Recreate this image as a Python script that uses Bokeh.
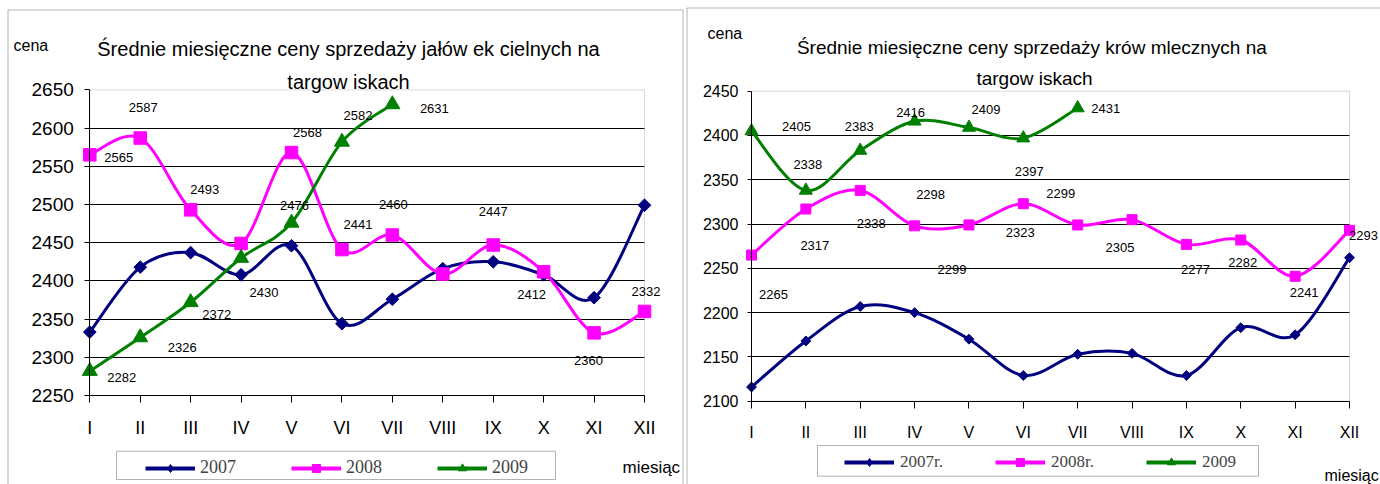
import math
import numpy as np
from bokeh.plotting import figure
from bokeh.models import (ColumnDataSource, FixedTicker, Legend, LegendItem,
                          LabelSet, Label, BoxAnnotation)
from bokeh.layouts import row
from bokeh.core.properties import value
from bokeh.embed import file_html
from bokeh.resources import INLINE

# ---------------- data ----------------
months = ["I", "II", "III", "IV", "V", "VI", "VII", "VIII", "IX", "X", "XI", "XII"]
month_pos = list(range(1, 13))

# left chart: heifers (jałówki cielne)
heifer_2007 = [2333, 2418, 2437, 2408, 2446, 2344, 2376, 2416, 2425, 2408, 2378, 2499]
heifer_2008 = [2565, 2587, 2493, 2449, 2568, 2441, 2460, 2409, 2447, 2412, 2332, 2360]
heifer_2009 = [2282, 2326, 2372, 2430, 2476, 2582, 2631]
heifer_yticks = [2250, 2300, 2350, 2400, 2450, 2500, 2550, 2600, 2650]

# right chart: dairy cows (krowy mleczne)
cow_2007 = [2116, 2168, 2207, 2200, 2170, 2129, 2153, 2154, 2129, 2183, 2175, 2262]
cow_2008 = [2265, 2317, 2338, 2298, 2299, 2323, 2299, 2305, 2277, 2282, 2241, 2293]
cow_2009 = [2405, 2338, 2383, 2416, 2409, 2397, 2431]
cow_yticks = [2100, 2150, 2200, 2250, 2300, 2350, 2400, 2450]

# data-label placement (which points carry a label and pixel offsets)
heifer_2008_lbl_idx = [0, 1, 2, 4, 5, 6, 8, 9, 10, 11]
heifer_2008_lbl_dx = [29, 3, 14, 16, 16, 1, 0, -12, 52, -56]
heifer_2008_lbl_dy = [-3, 31, 20, 20, 25, 31, 33, -23, 41, -49]
heifer_2009_lbl_idx = [0, 1, 2, 3, 4, 5, 6]
heifer_2009_lbl_dx = [32, 42, 26, 23, 3, 16, 42]
heifer_2009_lbl_dy = [-6, -10, -12, -35, 17, 26, -4]

cow_2008_lbl_idx = list(range(12))
cow_2008_lbl_dx = [22, 9, 11, 16, -17, -3, -17, -12, 9, 2, 9, 14]
cow_2008_lbl_dy = [-39, -36, -33, 31, -45, -29, 31, -28, -25, -22, -16, -5]
cow_2009_lbl_idx = [0, 1, 2, 3, 4, 5, 6]
cow_2009_lbl_dx = [45, 2, -1, -4, 17, 6, 28]
cow_2009_lbl_dy = [5, 26, 24, 9, 18, -33, 0]

NAVY = "#000080"
MAGENTA = "#FF00FF"
GREEN = "#008000"
SANS = "Liberation Sans"
SERIF = "Liberation Serif"

H = 484  # canvas height
NAN2 = np.array([np.nan, np.nan])


def bezier_source(xs, ys):
    n = len(xs)
    d = dict(x0=[], y0=[], x1=[], y1=[], cx0=[], cy0=[], cx1=[], cy1=[])
    for i in range(n - 1):
        ip = max(i - 1, 0)
        inx = min(i + 2, n - 1)
        d["x0"].append(xs[i]); d["y0"].append(ys[i])
        d["x1"].append(xs[i + 1]); d["y1"].append(ys[i + 1])
        d["cx0"].append(xs[i] + (xs[i + 1] - xs[ip]) / 6.0)
        d["cy0"].append(ys[i] + (ys[i + 1] - ys[ip]) / 6.0)
        d["cx1"].append(xs[i + 1] - (xs[inx] - xs[i]) / 6.0)
        d["cy1"].append(ys[i + 1] - (ys[inx] - ys[i]) / 6.0)
    return ColumnDataSource(d)


def draw_series(p, ys, color, marker, size, angle=0.0, legend_marker=None, legend_size=None):
    xs = month_pos[:len(ys)]
    p.bezier(x0="x0", y0="y0", x1="x1", y1="y1", cx0="cx0", cy0="cy0",
             cx1="cx1", cy1="cy1", source=bezier_source(xs, ys),
             line_color=color, line_width=3, line_cap="round")
    sc = p.scatter(x=xs, y=ys, marker=marker, size=size, angle=angle,
                   fill_color=color, line_color=color)
    # legend proxies (nothing drawn inside the plot)
    ln = p.line(x=NAN2, y=NAN2, line_color=color, line_width=4)
    if legend_marker is not None:
        sc_leg = p.scatter(x=NAN2, y=NAN2, marker=legend_marker, size=legend_size,
                           fill_color=color, line_color=color)
        return [ln, sc_leg]
    return [ln, sc]


def add_labels(p, ys, idx, dx, dy, font_size):
    src = ColumnDataSource(dict(
        x=[month_pos[i] for i in idx],
        y=[ys[i] for i in idx],
        text=[str(ys[i]) for i in idx],
        dx=dx, dy=dy))
    p.add_layout(LabelSet(x="x", y="y", text="text", x_offset="dx", y_offset="dy",
                          source=src, text_align="center", text_baseline="middle",
                          text_font=value(SANS), text_font_size=value(font_size),
                          text_color="black"))


def make_figure(width, yticks, px_left, px_right, py_top, py_bottom):
    """Frame covers the whole canvas; ranges are set so that the plot area
    (categories 1..12, yticks[0]..yticks[-1]) lands on the given pixels."""
    xs = (px_right - px_left) / 11.0
    ys = (py_bottom - py_top) / float(yticks[-1] - yticks[0])
    x_range = (1 - px_left / xs, 12 + (width - px_right) / xs)
    y_range = (yticks[0] - (H - py_bottom) / ys, yticks[-1] + py_top / ys)
    p = figure(width=width, height=H, x_range=x_range, y_range=y_range,
               output_backend="svg", toolbar_location=None, title=None,
               min_border=0, min_border_left=0, min_border_right=0,
               min_border_top=0, min_border_bottom=0)
    p.outline_line_color = None
    p.background_fill_color = "white"
    p.border_fill_color = "white"
    return p


def style_axes(p, yticks, ylab_size, xlab_size, ytick_out, ystandoff, xstandoff):
    p.xaxis.ticker = FixedTicker(ticks=month_pos)
    p.xaxis.major_label_overrides = {m: lab for m, lab in zip(month_pos, months)}
    p.yaxis.ticker = FixedTicker(ticks=yticks)
    p.xaxis.fixed_location = yticks[0]
    p.yaxis.fixed_location = 1
    p.xaxis.bounds = (1, 12)
    p.yaxis.bounds = (yticks[0], yticks[-1])
    for ax in (p.xaxis, p.yaxis):
        ax.axis_line_color = "black"
        ax.major_tick_line_color = "black"
        ax.major_tick_in = 0
        ax.minor_tick_line_color = None
        ax.major_label_text_color = "black"
        ax.major_label_text_font = SANS
    p.xaxis.major_tick_out = 7
    p.yaxis.major_tick_out = ytick_out
    p.yaxis.major_label_text_font_size = ylab_size
    p.xaxis.major_label_text_font_size = xlab_size
    p.yaxis.major_label_standoff = ystandoff
    p.xaxis.major_label_standoff = xstandoff
    p.xgrid.visible = False
    grid_ticks = yticks[1:-1]
    try:
        p.ygrid.cross_bounds = (1, 12)
        p.ygrid.ticker = FixedTicker(ticks=grid_ticks)
        p.ygrid.grid_line_color = "black"
        p.ygrid.grid_line_width = 1
    except AttributeError:
        p.ygrid.visible = False
        p.segment(x0=[1] * len(grid_ticks), x1=[12] * len(grid_ticks),
                  y0=grid_ticks, y1=grid_ticks, line_color="black",
                  line_width=1, level="underlay")
    # plot-area border (grey), drawn under the axes
    p.add_layout(BoxAnnotation(left=1, right=12, bottom=yticks[0], top=yticks[-1],
                               fill_alpha=0, line_color="#808080", line_width=1,
                               level="underlay"))


def screen_label(p, x, y, text, size, align="left", font=SANS):
    p.add_layout(Label(x=x, y=y, x_units="screen", y_units="screen", text=text,
                       text_align=align, text_baseline="alphabetic",
                       text_font=font, text_font_size=size, text_color="black"))


def screen_box(p, left, right, top, bottom):
    p.add_layout(BoxAnnotation(left=left, right=right, top=top, bottom=bottom,
                               left_units="screen", right_units="screen",
                               top_units="screen", bottom_units="screen",
                               fill_alpha=0, line_color="black", line_width=1))


# ---------------- left chart ----------------
W1 = 684
p1 = make_figure(W1, heifer_yticks, 89.3, 644.0, 89.4, 395.0)
style_axes(p1, heifer_yticks, "19px", "18px", 5, 11, 15)

r07 = draw_series(p1, heifer_2007, NAVY, "square", 9, math.pi / 4, "diamond", 15)
r08 = draw_series(p1, heifer_2008, MAGENTA, "square", 12.5)
r09 = draw_series(p1, heifer_2009, GREEN, "triangle", 15)
add_labels(p1, heifer_2008, heifer_2008_lbl_idx, heifer_2008_lbl_dx, heifer_2008_lbl_dy, "13px")
add_labels(p1, heifer_2009, heifer_2009_lbl_idx, heifer_2009_lbl_dx, heifer_2009_lbl_dy, "13px")

screen_label(p1, 348, H - 48.3, "Średnie miesięczne ceny sprzedaży jałów ek cielnych na", "20px", "center")
screen_label(p1, 348, H - 81.7, "targow iskach", "20px", "center")
screen_label(p1, 13, H - 45, "cena", "16px")
screen_label(p1, 622, H - 466.7, "miesiąc", "17px")
screen_box(p1, 116, 555, H - 450.7, H - 479)       # legend frame
screen_box(p1, 7.5, 682.5, H - 9.5, -20)            # chart frame

leg1 = Legend(items=[LegendItem(label="2007", renderers=r07),
                     LegendItem(label="2008", renderers=r08),
                     LegendItem(label="2009", renderers=r09)],
              orientation="horizontal", location=(145, H - 478),
              glyph_width=50, glyph_height=20, label_height=20,
              label_standoff=5, label_width=91, spacing=0, padding=0, margin=0,
              border_line_alpha=0, background_fill_alpha=0,
              label_text_font=SERIF, label_text_font_size="18px")
p1.add_layout(leg1)

# ---------------- right chart ----------------
W2 = 696
X2 = 684  # page x of right canvas
p2 = make_figure(W2, cow_yticks, 751 - X2, 1349 - X2, 90.7, 400.7)
style_axes(p2, cow_yticks, "16px", "16px", 4, 9, 16)

q07 = draw_series(p2, cow_2007, NAVY, "square", 7, math.pi / 4, "diamond", 15)
q08 = draw_series(p2, cow_2008, MAGENTA, "square", 10)
q09 = draw_series(p2, cow_2009, GREEN, "triangle", 13)
add_labels(p2, cow_2008, cow_2008_lbl_idx, cow_2008_lbl_dx, cow_2008_lbl_dy, "13px")
add_labels(p2, cow_2009, cow_2009_lbl_idx, cow_2009_lbl_dx, cow_2009_lbl_dy, "13px")

screen_label(p2, 1034 - X2, H - 46.7, "Średnie miesięczne ceny sprzedaży krów  mlecznych na", "19px", "center")
screen_label(p2, 1034 - X2, H - 77.7, "targow iskach", "19px", "center")
screen_label(p2, 707 - X2, H - 33.3, "cena", "16px")
screen_label(p2, 1324 - X2, H - 475.0, "miesiąc", "16px")
screen_box(p2, 817 - X2, 1258 - X2, H - 445, H - 475.7)   # legend frame
screen_box(p2, 686.5 - X2, W2 + 20, H - 7.5, -20)        # chart frame

leg2 = Legend(items=[LegendItem(label="2007r.", renderers=q07),
                     LegendItem(label="2008r.", renderers=q08),
                     LegendItem(label="2009", renderers=q09)],
              orientation="horizontal", location=(844 - X2, H - 471.7),
              glyph_width=50, glyph_height=20, label_height=20,
              label_standoff=6, label_width=95, spacing=0, padding=0, margin=0,
              border_line_alpha=0, background_fill_alpha=0,
              label_text_font=SERIF, label_text_font_size="17px")
p2.add_layout(leg2)

layout = row(p1, p2, spacing=0)
open("out.html", "w").write(file_html(layout, INLINE))
